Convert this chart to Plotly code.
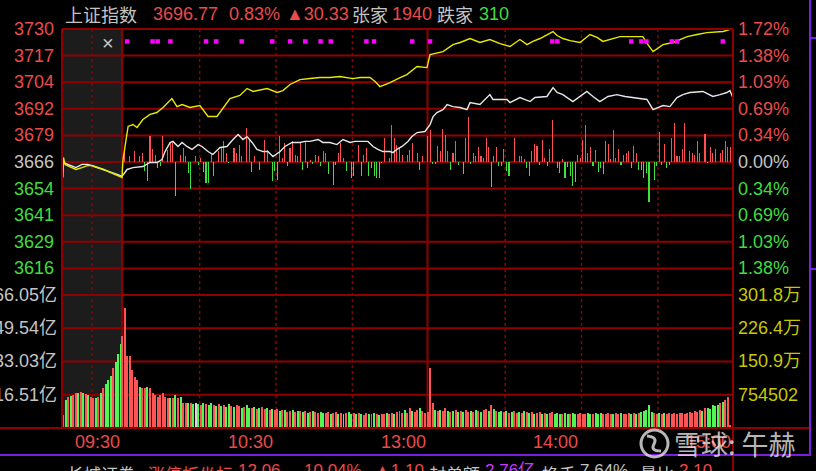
import plotly.graph_objects as go

# ---------------- data ----------------
BASE = 3666.44  # previous close

header_texts = ["上证指数", "3696.77", "0.83%", "▲30.33", "张家", "1940", "跌家", "310"]
header_roles = ["gray", "red", "red", "red", "gray", "red", "gray", "green"]

price_labels = ["3730", "3717", "3704", "3692", "3679", "3666", "3654", "3641", "3629", "3616"]
pct_labels = ["1.72%", "1.38%", "1.03%", "0.69%", "0.34%", "0.00%", "0.34%", "0.69%", "1.03%", "1.38%"]
label_roles = ["red"] * 5 + ["gray"] + ["green"] * 4

vol_left_labels = ["66.05亿", "49.54亿", "33.03亿", "16.51亿"]
vol_right_labels = ["301.8万", "226.4万", "150.9万", "754502"]
vol_levels = [66.05, 49.54, 33.03, 16.51]

time_labels = ["09:30", "10:30", "13:00", "14:00", "15:00"]
time_label_min = [0, 60, 120, 180, 240]

footer_texts = ["长城证券", "涨停板坐标", "12.06", "10.04%", "▲1.10", "封单额", "2.76亿", "换手", "7.64%", "量比", "2.10"]
footer_roles = ["gray", "red", "red", "red", "red", "gray", "purple", "gray", "gray", "gray", "red"]

# minutes after 09:30 (trading minutes, 13:00 = 120); negatives = call auction
white_t = [-23.2, -20.4, -18.1, -15.7, -13.4, -11.0, -8.6, -6.3, -3.9, -1.6, 0.0,
           2.0, 4.3, 8.2, 11.0, 13.7, 15.7, 16.9, 18.9, 20.0, 22.0, 23.6, 25.5, 27.5, 29.9,
           31.4, 33.8, 35.7, 38.5, 41.2, 43.6, 45.6, 47.5, 49.1, 51.1, 53.0, 55.4, 57.3, 59.3,
           62.1, 64.0, 66.8, 69.9, 71.9, 73.8, 77.0, 78.9, 81.7, 84.4, 86.8, 89.6, 91.5, 94.7,
           96.6, 98.6, 100.5, 102.5, 105.3, 106.4, 108.0, 110.0, 112.3, 113.9, 115.9, 119.0,
           121.0, 122.2, 123.7, 126.1, 127.7, 130.0, 132.8, 135.5, 136.7, 140.6, 144.5, 145.7,
           151.2, 152.4, 156.3, 160.3, 162.2, 166.9, 169.3, 170.9, 173.2, 177.1, 179.9, 182.6,
           185.0, 187.7, 190.9, 194.4, 197.6, 200.7, 206.2, 208.6, 210.5, 212.5, 215.2, 218.0,
           220.3, 223.1, 228.2, 232.1, 234.9, 237.6, 238.8, 240.0]
white_p = [3666.2, 3664.8, 3663.8, 3665.3, 3665.3, 3664.3, 3663.4, 3662.4, 3661.5, 3660.5, 3659.6,
           3662.9, 3663.8, 3664.3, 3666.2, 3666.2, 3667.6, 3671.4, 3675.7, 3676.2, 3673.8, 3675.7, 3673.8, 3672.4, 3674.7,
           3673.8, 3671.4, 3670.0, 3673.3, 3673.8, 3677.1, 3679.5, 3677.1, 3678.5, 3675.7, 3672.4, 3671.4, 3671.4, 3669.0,
           3671.4, 3673.8, 3675.7, 3675.7, 3676.2, 3676.2, 3677.1, 3675.7, 3675.7, 3674.7, 3677.1, 3675.7, 3676.2, 3676.2,
           3676.2, 3673.8, 3672.4, 3671.4, 3671.4, 3670.9, 3672.4, 3673.8, 3676.2, 3678.5, 3680.4, 3680.9,
           3684.2, 3688.0, 3689.9, 3691.3, 3693.7, 3692.7, 3692.3, 3691.3, 3694.6, 3693.7, 3698.4, 3696.1,
           3696.1, 3694.6, 3697.0, 3695.1, 3697.0, 3697.5, 3701.7, 3699.4, 3698.4, 3695.1, 3697.5, 3699.9,
           3697.5, 3695.1, 3697.5, 3698.4, 3697.5, 3697.0, 3696.1, 3691.3, 3692.3, 3693.2, 3692.7, 3697.0,
           3698.4, 3699.4, 3699.9, 3697.5, 3698.4, 3699.4, 3700.3, 3696.77]

yellow_t = [-23.2, -23.0, -22.4, -20.4, -18.1, -15.7, -13.4, -11.8, -9.4, -7.1, -4.7, -2.4, 0.0,
            0.4, 1.2, 2.4, 4.3, 5.9, 8.2, 11.0, 13.7, 16.1, 19.6, 21.6, 23.6, 26.7, 30.6, 33.8, 37.3,
            42.4, 46.3, 49.1, 51.5, 57.0, 60.9, 63.2, 66.0, 69.9, 73.8, 77.8, 81.7, 85.6, 90.7, 93.5,
            97.4, 99.4, 101.3, 105.3, 109.2, 111.9, 115.9, 119.8, 121.0, 123.7, 126.1, 130.0, 132.8,
            136.7, 140.6, 144.5, 148.5, 152.4, 156.3, 159.1, 161.4, 164.2, 169.3, 170.9, 173.2, 176.0,
            179.9, 183.8, 186.6, 188.9, 191.7, 195.6, 199.5, 204.6, 206.6, 208.6, 212.5, 216.5, 219.2,
            222.0, 225.9, 229.8, 236.1, 240.0]
yellow_p = [3659.1, 3668.6, 3665.3, 3664.3, 3662.9, 3663.8, 3664.8, 3664.8, 3663.8, 3662.9, 3661.5, 3660.5, 3659.1,
            3667.6, 3673.8, 3683.3, 3684.2, 3682.8, 3686.6, 3689.0, 3689.9, 3692.3, 3696.5, 3692.7, 3693.7, 3692.3, 3693.2, 3688.0, 3688.0,
            3696.5, 3698.0, 3701.3, 3699.9, 3701.3, 3699.4, 3700.3, 3703.2, 3705.5, 3706.0, 3706.5, 3706.5, 3707.0, 3706.0, 3706.5,
            3706.5, 3704.6, 3702.2, 3704.1, 3706.5, 3707.9, 3711.7, 3711.2, 3717.4, 3718.3, 3718.8, 3722.1, 3723.1,
            3725.0, 3723.1, 3724.5, 3722.6, 3721.2, 3724.5, 3722.1, 3723.6, 3725.0, 3728.3, 3726.4, 3725.0, 3724.0,
            3723.1, 3726.9, 3725.5, 3723.6, 3724.5, 3725.9, 3725.9, 3725.9, 3722.1, 3718.8, 3722.1, 3723.1, 3724.5,
            3725.9, 3726.9, 3727.8, 3728.3, 3729.7]

# red / green force bars around the previous close (index points)
force_t = [1, 3, 5, 7, 8, 9, 10, 11, 12, 13, 14, 15, 16, 18, 19, 20, 21, 23, 24, 25, 26, 27, 29, 30,
           31, 32, 33, 34, 35, 36, 38, 39, 40, 41, 42, 44, 45, 46, 47, 49, 50, 51, 52, 54, 56, 57,
           59, 60, 61, 62, 63, 64, 65, 66, 67, 68, 69, 70, 71, 72, 73, 74, 75, 76, 77, 78, 79, 80,
           81, 83, 84, 85, 86, 87, 88, 90, 91, 93, 94, 95, 96, 97, 98, 99, 100, 101, 102, 103, 105,
           106, 107, 108, 109, 110, 112, 113, 114, 116, 117, 118, 120, 121, 122, 123, 124, 125, 126,
           127, 128, 129, 130, 131, 132, 134, 135, 136, 137, 138, 139, 140, 141, 142, 143, 144, 145,
           146, 147, 148, 149, 150, 151, 152, 154, 156, 157, 158, 159, 160, 161, 162, 163, 164, 165,
           166, 167, 168, 169, 171, 172, 173, 174, 175, 176, 177, 178, 179, 180, 181, 182, 183, 184,
           185, 186, 187, 188, 189, 190, 191, 192, 193, 194, 195, 196, 197, 198, 199, 200, 201, 202,
           203, 204, 205, 206, 207, 209, 210, 211, 212, 213, 214, 215, 216, 217, 218, 219, 220, 221,
           223, 224, 225, 226, 227, 229, 230, 231, 232, 233, 235, 236, 237, 238, 239, 240]
force_v = [5.1, 2.7, 5.1, 2.7, 4.3, -4.4, -9.2, 12.2, 6.2, 3.5, -2.9, -2.0, 12.2, 5.8, 9.0, 9.8, -16.3, 3.5, 6.7, 2.7, -5.2, -12.8, 2.7, -1.3,
           1.9, -4.9, -10.0, -10.0, 4.3, -6.8, 5.1, 6.7, 9.8, 4.3, -0.5, 6.7, 4.3, 8.1, 2.7, 16.2, 10.5, -4.9, 2.7, -3.9, 10.5, 5.8,
           -9.2, -4.4, -8.4, 12.2, 1.9, 9.0, -2.0, 6.7, 9.8, 3.5, 2.7, 9.0, -3.7, 9.8, -2.9, 1.1, -0.8, 3.5, 2.7, -2.0, 5.1, 4.3,
           -5.7, -10.8, -1.3, 4.3, 9.0, 1.9, -4.4, -7.6, -6.8, 8.1, -6.8, 3.5, 6.7, -6.8, -2.9, -6.8, -7.6, -7.6, -0.5, 11.4, 1.9,
           17.7, 11.4, 8.1, 6.7, 3.5, 3.5, 5.8, 9.0, 4.3, -3.7, 2.7, 12.2, 15.3, -0.8, -0.8, 7.7, 5.1, 15.7,
           13.0, 5.1, -3.7, 4.3, 9.8, -1.3, -5.6, 11.4, 21.4, -0.8, 4.3, 2.7, 7.1, 2.7, 1.9, 11.4, 7.1, -11.9,
           2.7, 7.1, -2.0, -2.0, 6.2, -4.4, -6.5, 11.4, 2.7, 2.7, 1.4, -2.9, -6.5, 5.1, 8.6, 7.7, -1.3, 10.6,
           1.9, -2.0, 6.2, 20.1, -2.9, -5.2, 1.4, -7.6, -2.4, -6.8, -11.3, -9.6, 3.5, 1.9, 10.6, 17.7, 4.3, 7.1,
           -2.0, 5.8, -4.9, -2.9, -5.7, 9.8, 8.7, 1.4, 15.1, 1.9, 6.2, -1.3, 3.5, 4.3, 5.1, -2.9, 7.7, 4.3,
           -3.7, -3.7, -7.6, -5.2, -19.2, -8.4, -2.0, 14.1, -1.3, 8.6, -2.9, -1.3, 11.4, 18.5, 2.7, 2.7, 6.2, 18.5,
           5.1, 4.3, 3.5, 9.8, 4.3, 13.4, -0.5, 7.1, 4.3, 6.2, 4.3, 5.8, 9.8, 7.1, 7.1, 12.2]

# call-auction volume (亿), 24 slots 09:15-09:25
vol_pre = [6.4, 13.8, 15.3, 15.8, 16.3, 17.2, 17.2, 17.7, 17.2, 16.8, 16.3, 15.3,
           14.8, 14.8, 15.3, 17.2, 19.7, 21.7, 23.7, 25.6, 29.6, 33.0, 37.0, 41.9]
vol_pre_dir = "rgrgrrgrgrgrrgrgrgggrggg"

# per-minute volume (亿), minutes 0..240
vol = [45.8, 59.6, 36.0, 36.0, 28.6, 25.1, 23.7, 20.2, 19.7, 19.7,
       20.2, 19.7, 17.2, 16.3, 15.3, 16.3, 17.2, 15.3, 14.8, 14.8,
       14.8, 16.3, 14.8, 15.3, 12.3, 12.3, 12.3, 12.3, 11.8, 12.3,
       11.8, 11.3, 12.3, 11.8, 11.3, 12.3, 11.3, 10.8, 11.8, 10.8,
       11.3, 10.3, 11.8, 10.8, 10.3, 11.3, 10.8, 9.9, 10.3, 11.3,
       9.9, 9.9, 10.3, 9.4, 9.9, 10.3, 9.4, 9.9, 8.9, 9.4,
       8.9, 9.4, 8.4, 8.9, 8.9, 7.9, 8.4, 8.9, 7.9, 8.4,
       8.4, 7.9, 8.4, 7.4, 7.9, 8.4, 7.9, 7.4, 7.9, 7.4,
       7.4, 7.9, 6.9, 7.4, 7.9, 6.9, 7.4, 6.9, 7.4, 7.9,
       6.9, 7.4, 6.9, 7.4, 6.9, 6.4, 7.4, 6.9, 6.9, 7.4,
       6.9, 6.4, 6.9, 6.9, 7.4, 6.9, 7.4, 6.9, 7.9, 8.4,
       7.4, 8.9, 7.4, 9.9, 8.4, 7.9, 8.9, 9.9, 8.4, 7.4,
       7.9, 29.6, 12.3, 8.9, 8.4, 8.9, 8.4, 9.9, 8.4, 7.9,
       8.4, 8.9, 7.9, 8.4, 7.9, 8.9, 7.9, 8.4, 7.9, 8.9,
       8.4, 7.9, 8.9, 9.4, 8.4, 11.3, 9.4, 8.4, 7.9, 8.4,
       7.9, 8.4, 7.4, 7.9, 8.4, 7.4, 7.9, 7.4, 8.4, 7.9,
       7.4, 7.9, 6.9, 7.4, 7.9, 6.9, 7.4, 6.9, 7.4, 7.9,
       6.9, 7.4, 6.9, 6.9, 7.4, 6.9, 6.9, 7.4, 6.9, 6.9,
       7.4, 6.9, 6.9, 7.4, 6.9, 6.9, 7.4, 6.9, 7.4, 6.9,
       6.9, 7.4, 6.9, 6.9, 7.4, 6.9, 7.4, 6.9, 6.9, 7.4,
       6.9, 7.4, 6.9, 7.4, 7.9, 8.4, 8.9, 11.3, 7.9, 7.4,
       6.9, 7.4, 6.9, 7.4, 6.9, 7.4, 6.9, 7.4, 6.9, 7.4,
       7.4, 6.9, 7.4, 7.9, 7.4, 8.4, 7.9, 8.9, 8.4, 9.9,
       9.9, 9.4, 11.3, 10.8, 11.3, 12.3, 12.8, 13.8, 15.3, 1.5,
       28.6]
vol_dir = ("rrrrrrrgrr" "grrrrrrrrg" "rgrgrrgrgw" "grgrggrgrg" "rggrgrrgrg" "grgrgrrgrg"
           "rrgrgrrgrg" "rgrgrgrrgg" "rrgrrgrgrg" "grgrgrrgrg" "rgrrgrrgrr" "rgrrgrrgrr"
           "rrrgrgrrgr" "grgrgrrgrg" "rgrrgrgrgg" "rgrgrrgrgr" "grgrrgrgrr" "gggrggrggr"
           "rrrggrgggr" "rrrgrrgrrr" "grgrgggggr" "rgrgrrrrrr" "rrrrrrrrgr" "gggggrgrrr" "w")

# signal markers (minutes)
signal_t = [2, 12, 14, 19, 33, 37, 47, 59, 66, 72, 78, 82, 96, 99, 114, 121,
            169, 171, 200, 204, 206, 216, 218, 236]

# ---------------- style / layout ----------------
W, H = 816, 471
L, R, T, B = 62, 83, 29, 43
PW, PH = W - L - R, H - T - B
PRE = 23.57          # width of call-auction zone in minute units
STEP = 0.00344       # grid step as fraction of BASE
PMIN, PMAX = BASE * (1 - 5 * STEP), BASE * (1 + 5 * STEP)
SIG_Y = 3723.6

COL = {"red": "#ec4b4b", "green": "#3fdd3f", "gray": "#c4c4c4", "purple": "#c43cff",
       "yellow": "#c8c800"}
GRID = "#900000"
NUMF = "Liberation Sans, Noto Sans CJK SC, sans-serif"
CJKF = "Noto Sans CJK SC, Liberation Sans, sans-serif"


def px(xp):
    return (xp - L) / PW


def py(yp):
    return (H - B - yp) / PH


fig = go.Figure()

# volume bars
pre_x = [-PRE + 0.5 + i * (PRE - 0.1) / len(vol_pre) for i in range(len(vol_pre))]
bar_col = {"r": "#ff5454", "g": "#52f552", "w": "#d8d8d8"}
fig.add_trace(go.Bar(x=pre_x + list(range(len(vol))), y=vol_pre + vol,
                     marker=dict(color=[bar_col[c] for c in vol_pre_dir + vol_dir], line_width=0),
                     width=0.78, yaxis="y2", xaxis="x", hoverinfo="skip", showlegend=False))

# force bars
fig.add_trace(go.Bar(x=force_t, y=force_v, base=BASE, width=0.42,
                     marker=dict(color=["#ff5050" if v > 0 else "#3ee03e" for v in force_v], line_width=0),
                     yaxis="y", xaxis="x", hoverinfo="skip", showlegend=False))

fig.add_trace(go.Scatter(x=white_t, y=white_p, mode="lines", line=dict(color="#e6e6e6", width=1.4),
                         yaxis="y", hoverinfo="skip", showlegend=False))
fig.add_trace(go.Scatter(x=yellow_t, y=yellow_p, mode="lines", line=dict(color="#e8e800", width=1.4),
                         yaxis="y", hoverinfo="skip", showlegend=False))
fig.add_trace(go.Scatter(x=signal_t, y=[SIG_Y] * len(signal_t), mode="markers",
                         marker=dict(symbol="square", size=4.5, color="#ff00ff", line_width=0),
                         yaxis="y", hoverinfo="skip", showlegend=False))

shapes = []
# call auction shading
shapes.append(dict(type="rect", xref="x", yref="paper", x0=-PRE, x1=0, y0=0, y1=1,
                   fillcolor="#1c1c1c", line_width=0, layer="below"))
# price grid
for k in range(5, -5, -1):
    shapes.append(dict(type="line", xref="paper", yref="y", x0=0, x1=1,
                       y0=BASE * (1 + k * STEP), y1=BASE * (1 + k * STEP),
                       line=dict(color=GRID, width=2), layer="below"))
# separator between panels
shapes.append(dict(type="line", xref="paper", yref="paper", x0=0, x1=1, y0=1 / 3, y1=1 / 3,
                   line=dict(color=GRID, width=2), layer="below"))
# volume grid
for v in vol_levels[1:]:
    shapes.append(dict(type="line", xref="paper", yref="y2", x0=0, x1=1, y0=v, y1=v,
                       line=dict(color=GRID, width=2), layer="below"))
# vertical dotted
for m in [-11.8, 30.5, 60.5, 90.5, 150.5, 180.5, 210.5]:
    shapes.append(dict(type="line", xref="x", yref="paper", x0=m, x1=m, y0=0, y1=1,
                       line=dict(color=GRID, width=1.5, dash="dot"), layer="below"))
# vertical solid
for m in [0, 120]:
    shapes.append(dict(type="line", xref="x", yref="paper", x0=m, x1=m, y0=0, y1=1,
                       line=dict(color=GRID, width=2), layer="below"))
# borders
shapes.append(dict(type="line", xref="paper", yref="paper", x0=0, x1=0, y0=0, y1=1,
                   line=dict(color=GRID, width=2)))
shapes.append(dict(type="line", xref="paper", yref="paper", x0=0, x1=1, y0=1, y1=1,
                   line=dict(color=GRID, width=2)))
shapes.append(dict(type="line", xref="paper", yref="paper", x0=1, x1=1, y0=py(471), y1=1,
                   line=dict(color=GRID, width=2)))
shapes.append(dict(type="line", xref="paper", yref="paper", x0=px(0), x1=px(810), y0=0, y1=0,
                   line=dict(color=GRID, width=2)))
# purple frame lines
PUR = "#7a1fe0"
shapes.append(dict(type="line", xref="paper", yref="paper", x0=px(0), x1=px(811), y0=py(455), y1=py(455),
                   line=dict(color=PUR, width=2)))
shapes.append(dict(type="line", xref="paper", yref="paper", x0=px(810), x1=px(810), y0=py(455), y1=py(0),
                   line=dict(color=PUR, width=2)))
shapes.append(dict(type="line", xref="paper", yref="paper", x0=px(810), x1=px(816), y0=py(38), y1=py(38),
                   line=dict(color=PUR, width=2)))
shapes.append(dict(type="line", xref="paper", yref="paper", x0=px(810), x1=px(816), y0=py(269), y1=py(269),
                   line=dict(color=PUR, width=2)))
# watermark logo
WM = "rgba(235,235,235,0.78)"
shapes.append(dict(type="circle", xref="paper", yref="paper", x0=px(641), x1=px(668), y0=py(457), y1=py(430),
                   line=dict(color=WM, width=3)))
shapes.append(dict(type="path", xref="paper", yref="paper",
                   path="M %f %f Q %f %f %f %f Q %f %f %f %f" % (
                       px(647), py(436), px(658), py(437), px(654), py(444),
                       px(650), py(451), px(661), py(451)),
                   line=dict(color=WM, width=3)))

ann = []
hdr_x = [63, 151, 227, 284, 350, 390, 435, 477]
for t, role, x in zip(header_texts, header_roles, hdr_x):
    f = CJKF if role == "gray" else NUMF
    ann.append(dict(text=t, x=px(x), y=py(14), xref="paper", yref="paper", xanchor="left",
                    yanchor="middle", showarrow=False, font=dict(family=f, size=18, color=COL[role])))

for k, (pl, cl, role) in enumerate(zip(price_labels, pct_labels, label_roles)):
    yv = BASE * (1 + (5 - k) * STEP)
    ann.append(dict(text=pl, x=px(56), y=yv, xref="paper", yref="y", xanchor="right", yanchor="middle",
                    showarrow=False, font=dict(family=NUMF, size=18, color=COL[role])))
    ann.append(dict(text=cl, x=px(736), y=yv, xref="paper", yref="y", xanchor="left", yanchor="middle",
                    showarrow=False, font=dict(family=NUMF, size=18, color=COL[role])))

for v, lt, rt in zip(vol_levels, vol_left_labels, vol_right_labels):
    ann.append(dict(text=lt, x=px(59), y=v, xref="paper", yref="y2", xanchor="right", yanchor="middle",
                    showarrow=False, font=dict(family=NUMF, size=18, color=COL["gray"])))
    ann.append(dict(text=rt, x=px(736), y=v, xref="paper", yref="y2", xanchor="left", yanchor="middle",
                    showarrow=False, font=dict(family=NUMF, size=18, color=COL["yellow"])))

for t, m in zip(time_labels, time_label_min):
    ann.append(dict(text=t, x=m, y=py(442), xref="x", yref="paper", xanchor="right", yanchor="middle",
                    showarrow=False, font=dict(family=NUMF, size=18, color=COL["red"])))

ann.append(dict(text="×", x=px(108), y=py(43), xref="paper", yref="paper", xanchor="center",
                yanchor="middle", showarrow=False, font=dict(family=NUMF, size=20, color="#c8c8c8")))

ftr_x = [65, 146, 236, 302, 372, 427, 483, 540, 578, 638, 677]
for t, role, x in zip(footer_texts, footer_roles, ftr_x):
    f = NUMF if any(ch.isdigit() for ch in t) else CJKF
    ann.append(dict(text=t, x=px(x), y=py(459), xref="paper", yref="paper", xanchor="left",
                    yanchor="top", showarrow=False, font=dict(family=f, size=17, color=COL[role])))

ann.append(dict(text="雪球: 午赫", x=px(672), y=py(443), xref="paper", yref="paper", xanchor="left",
                yanchor="middle", showarrow=False, font=dict(family=CJKF, size=27, color=WM)))

fig.update_layout(
    width=W, height=H, margin=dict(l=L, r=R, t=T, b=B, pad=0),
    paper_bgcolor="black", plot_bgcolor="black",
    barmode="overlay", bargap=0, showlegend=False,
    xaxis=dict(range=[-PRE, 240], visible=False, anchor="y2", fixedrange=True),
    yaxis=dict(domain=[1 / 3, 1], range=[PMIN, PMAX], visible=False, anchor="x", fixedrange=True),
    yaxis2=dict(domain=[0, 1 / 3], range=[0, vol_levels[0]], visible=False, anchor="x", fixedrange=True),
    shapes=shapes, annotations=ann,
)

fig.write_html("out.html", config={"displayModeBar": False, "staticPlot": True},
               post_script="document.body.style.margin='0';document.body.style.background='black';")
